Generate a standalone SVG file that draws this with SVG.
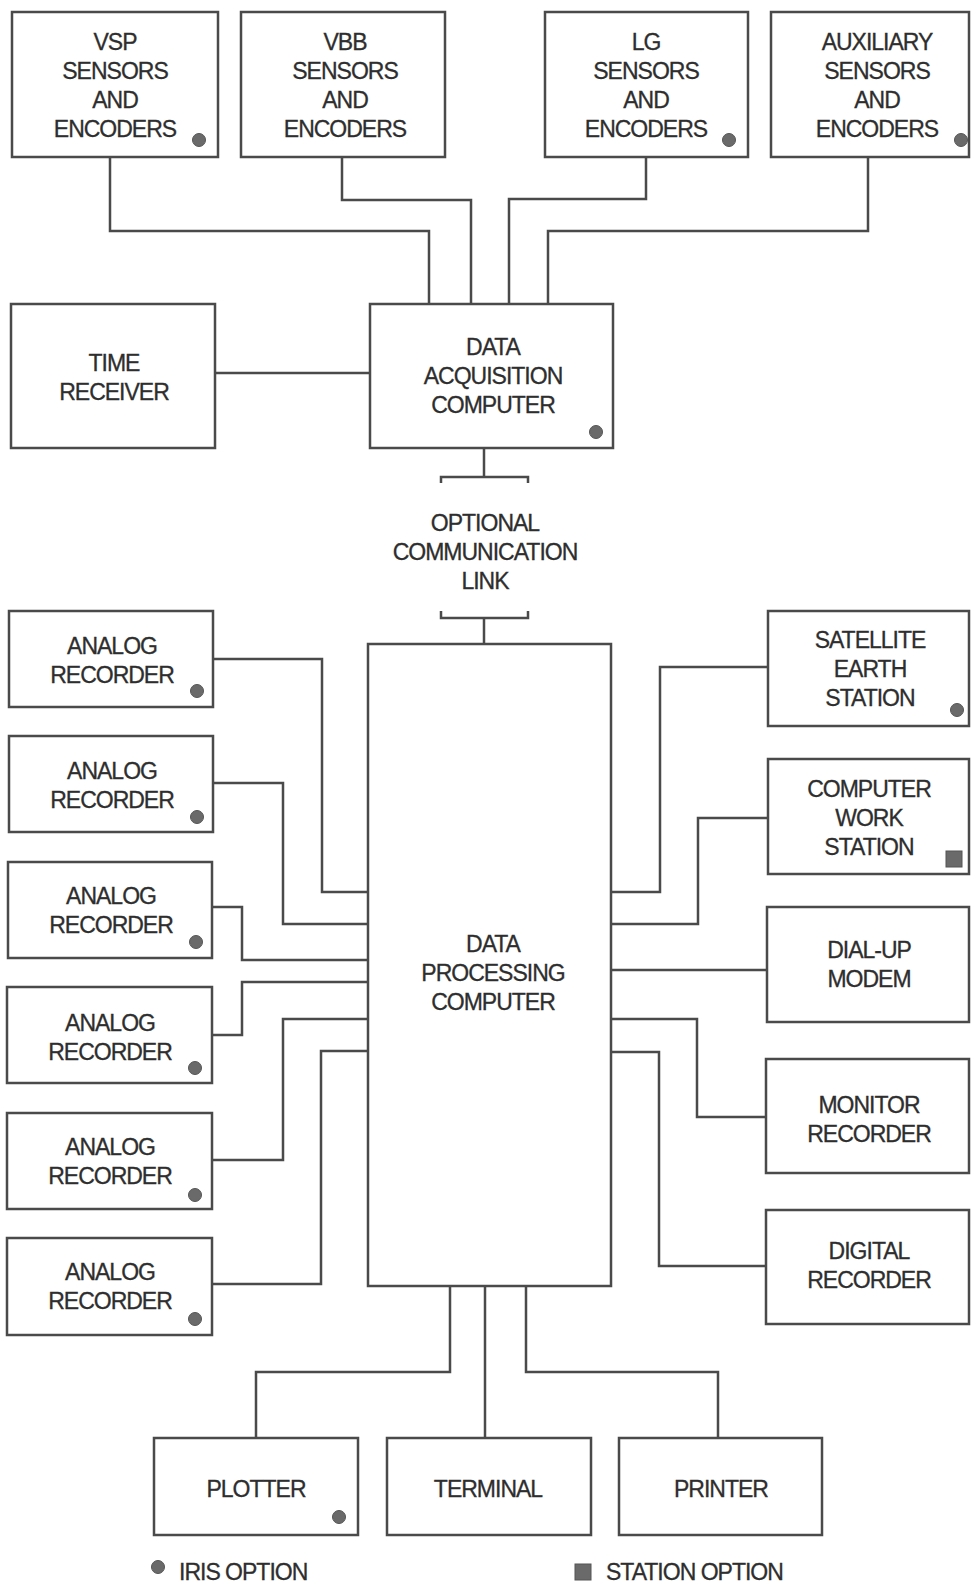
<svg xmlns="http://www.w3.org/2000/svg" width="972" height="1595" viewBox="0 0 972 1595">
  <defs>
    <style>
      .box { fill: #ffffff; stroke: #4a4a4a; stroke-width: 2.5; }
      .wire { fill: none; stroke: #4a4a4a; stroke-width: 2.5; }
      .lbl { font-family: "Liberation Sans", Arial, sans-serif; font-size: 23px; letter-spacing: -1px; fill: #2e2e2e; stroke: #2e2e2e; stroke-width: 0.3; text-anchor: middle; }
      .leg { font-family: "Liberation Sans", Arial, sans-serif; font-size: 23px; letter-spacing: -1px; fill: #2e2e2e; stroke: #2e2e2e; stroke-width: 0.3; }
      .iris { fill: #6a6a6a; stroke: #555555; stroke-width: 1; }
      .station { fill: #6a6a6a; stroke: #555555; stroke-width: 1; }
    </style>
    <circle id="dot" r="6.5" class="iris"/>
  </defs>
  <rect width="972" height="1595" fill="#ffffff"/>

  <!-- connectors -->
  <g id="connectors">
    <path class="wire" d="M110 157 V231 H429 V304"/>
    <path class="wire" d="M342 157 V200 H471 V304"/>
    <path class="wire" d="M646 157 V199 H509 V304"/>
    <path class="wire" d="M868 157 V231 H548 V304"/>
    <path class="wire" d="M215 373 H370"/>
    <path class="wire" d="M484 448 V477"/>
    <path class="wire" d="M441 483 V477 H528 V483"/>
    <path class="wire" d="M441 611 V618 H528 V611"/>
    <path class="wire" d="M484 618 V644"/>
    <path class="wire" d="M213 659 H322 V892 H368"/>
    <path class="wire" d="M213 783 H283 V924 H368"/>
    <path class="wire" d="M212 907 H242 V960 H368"/>
    <path class="wire" d="M212 1035 H242 V982 H368"/>
    <path class="wire" d="M212 1160 H283 V1019 H368"/>
    <path class="wire" d="M212 1284 H321 V1051 H368"/>
    <path class="wire" d="M768 667 H660 V892 H611"/>
    <path class="wire" d="M768 818 H698 V924 H611"/>
    <path class="wire" d="M767 970 H611"/>
    <path class="wire" d="M766 1117 H697 V1019 H611"/>
    <path class="wire" d="M766 1266 H659 V1052 H611"/>
    <path class="wire" d="M450 1286 V1372 H256 V1438"/>
    <path class="wire" d="M485 1286 V1438"/>
    <path class="wire" d="M526 1286 V1372 H718 V1438"/>
  </g>

  <g id="vsp">
    <rect class="box" x="12" y="12" width="206" height="145"/>
    <text class="lbl" x="115" y="50">VSP</text>
    <text class="lbl" x="115" y="79">SENSORS</text>
    <text class="lbl" x="115" y="108">AND</text>
    <text class="lbl" x="115" y="137">ENCODERS</text>
    <use href="#dot" x="199" y="140"/>
  </g>
  <g id="vbb">
    <rect class="box" x="241" y="12" width="204" height="145"/>
    <text class="lbl" x="345" y="50">VBB</text>
    <text class="lbl" x="345" y="79">SENSORS</text>
    <text class="lbl" x="345" y="108">AND</text>
    <text class="lbl" x="345" y="137">ENCODERS</text>
  </g>
  <g id="lg">
    <rect class="box" x="545" y="12" width="203" height="145"/>
    <text class="lbl" x="646" y="50">LG</text>
    <text class="lbl" x="646" y="79">SENSORS</text>
    <text class="lbl" x="646" y="108">AND</text>
    <text class="lbl" x="646" y="137">ENCODERS</text>
    <use href="#dot" x="729" y="140"/>
  </g>
  <g id="aux">
    <rect class="box" x="771" y="12" width="198" height="145"/>
    <text class="lbl" x="877" y="50">AUXILIARY</text>
    <text class="lbl" x="877" y="79">SENSORS</text>
    <text class="lbl" x="877" y="108">AND</text>
    <text class="lbl" x="877" y="137">ENCODERS</text>
    <use href="#dot" x="961" y="140"/>
  </g>

  <g id="time-receiver">
    <rect class="box" x="11" y="304" width="204" height="144"/>
    <text class="lbl" x="114" y="371">TIME</text>
    <text class="lbl" x="114" y="400">RECEIVER</text>
  </g>
  <g id="dac">
    <rect class="box" x="370" y="304" width="243" height="144"/>
    <text class="lbl" x="493" y="355">DATA</text>
    <text class="lbl" x="493" y="384">ACQUISITION</text>
    <text class="lbl" x="493" y="413">COMPUTER</text>
    <use href="#dot" x="596" y="432"/>
  </g>

  <g id="comm-link">
    <text class="lbl" x="485" y="531">OPTIONAL</text>
    <text class="lbl" x="485" y="560">COMMUNICATION</text>
    <text class="lbl" x="485" y="589">LINK</text>
  </g>

  <g id="dpc">
    <rect class="box" x="368" y="644" width="243" height="642"/>
    <text class="lbl" x="493" y="952">DATA</text>
    <text class="lbl" x="493" y="981">PROCESSING</text>
    <text class="lbl" x="493" y="1010">COMPUTER</text>
  </g>

  <g id="analog-1">
    <rect class="box" x="9" y="611" width="204" height="96"/>
    <text class="lbl" x="112" y="654">ANALOG</text>
    <text class="lbl" x="112" y="683">RECORDER</text>
    <use href="#dot" x="197" y="691"/>
  </g>
  <g id="analog-2">
    <rect class="box" x="9" y="736" width="204" height="96"/>
    <text class="lbl" x="112" y="779">ANALOG</text>
    <text class="lbl" x="112" y="808">RECORDER</text>
    <use href="#dot" x="197" y="817"/>
  </g>
  <g id="analog-3">
    <rect class="box" x="8" y="862" width="204" height="96"/>
    <text class="lbl" x="111" y="904">ANALOG</text>
    <text class="lbl" x="111" y="933">RECORDER</text>
    <use href="#dot" x="196" y="942"/>
  </g>
  <g id="analog-4">
    <rect class="box" x="7" y="987" width="205" height="96"/>
    <text class="lbl" x="110" y="1031">ANALOG</text>
    <text class="lbl" x="110" y="1060">RECORDER</text>
    <use href="#dot" x="195" y="1068"/>
  </g>
  <g id="analog-5">
    <rect class="box" x="7" y="1113" width="205" height="96"/>
    <text class="lbl" x="110" y="1155">ANALOG</text>
    <text class="lbl" x="110" y="1184">RECORDER</text>
    <use href="#dot" x="195" y="1195"/>
  </g>
  <g id="analog-6">
    <rect class="box" x="7" y="1238" width="205" height="97"/>
    <text class="lbl" x="110" y="1280">ANALOG</text>
    <text class="lbl" x="110" y="1309">RECORDER</text>
    <use href="#dot" x="195" y="1319"/>
  </g>

  <g id="satellite">
    <rect class="box" x="768" y="611" width="201" height="115"/>
    <text class="lbl" x="870" y="648">SATELLITE</text>
    <text class="lbl" x="870" y="677">EARTH</text>
    <text class="lbl" x="870" y="706">STATION</text>
    <use href="#dot" x="957" y="710"/>
  </g>
  <g id="workstation">
    <rect class="box" x="768" y="759" width="201" height="115"/>
    <text class="lbl" x="869" y="797">COMPUTER</text>
    <text class="lbl" x="869" y="826">WORK</text>
    <text class="lbl" x="869" y="855">STATION</text>
    <rect class="station" x="946" y="851" width="16" height="16"/>
  </g>
  <g id="modem">
    <rect class="box" x="767" y="907" width="202" height="115"/>
    <text class="lbl" x="869" y="958">DIAL-UP</text>
    <text class="lbl" x="869" y="987">MODEM</text>
  </g>
  <g id="monitor">
    <rect class="box" x="766" y="1059" width="203" height="114"/>
    <text class="lbl" x="869" y="1113">MONITOR</text>
    <text class="lbl" x="869" y="1142">RECORDER</text>
  </g>
  <g id="digital">
    <rect class="box" x="766" y="1210" width="203" height="114"/>
    <text class="lbl" x="869" y="1259">DIGITAL</text>
    <text class="lbl" x="869" y="1288">RECORDER</text>
  </g>

  <g id="plotter">
    <rect class="box" x="154" y="1438" width="204" height="97"/>
    <text class="lbl" x="256" y="1497">PLOTTER</text>
    <use href="#dot" x="339" y="1517"/>
  </g>
  <g id="terminal">
    <rect class="box" x="387" y="1438" width="204" height="97"/>
    <text class="lbl" x="488" y="1497">TERMINAL</text>
  </g>
  <g id="printer">
    <rect class="box" x="619" y="1438" width="203" height="97"/>
    <text class="lbl" x="721" y="1497">PRINTER</text>
  </g>

  <g id="legend">
    <use href="#dot" x="158" y="1567"/>
    <text class="leg" x="179" y="1580">IRIS OPTION</text>
    <rect class="station" x="575" y="1564" width="16" height="16"/>
    <text class="leg" x="606" y="1580">STATION OPTION</text>
  </g>
</svg>
